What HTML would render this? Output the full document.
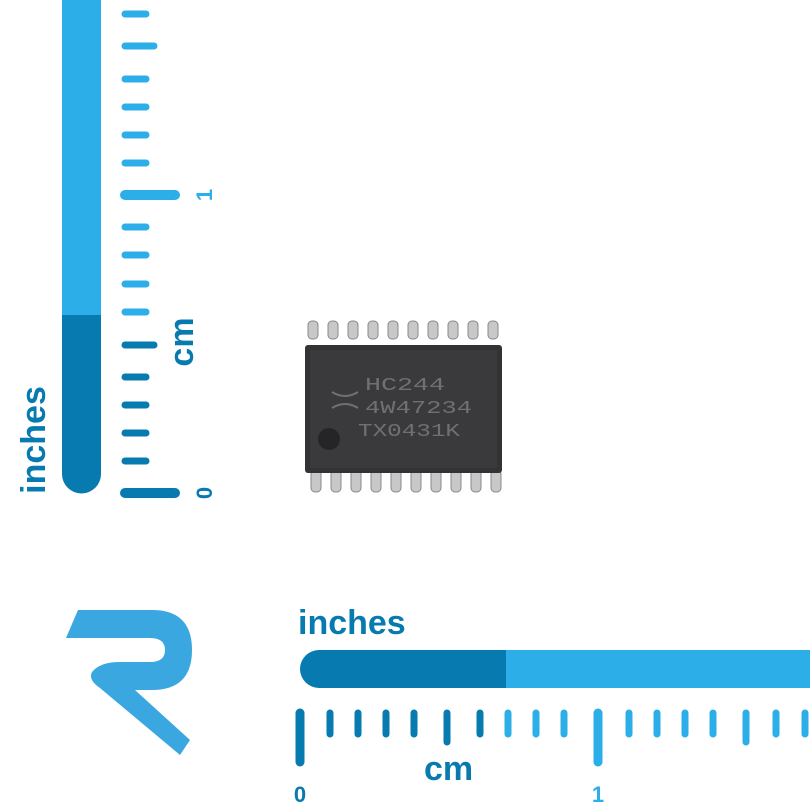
<!DOCTYPE html>
<html><head><style>
html,body{margin:0;padding:0;background:#fff;width:810px;height:810px;overflow:hidden}
svg{display:block}
text{font-family:"Liberation Sans",sans-serif;font-weight:bold}
</style></head><body>
<svg width="810" height="810" viewBox="0 0 810 810">
<!-- vertical ruler -->
<rect x="62" y="0" width="39" height="316" fill="#2caee8"/>
<path d="M62 315 H101 V474 A19.5 19.5 0 0 1 62 474 Z" fill="#077ab0"/>
<g stroke-linecap="round" stroke-width="7">
<g stroke="#2caee8">
<line x1="125" y1="14" x2="146" y2="14"/>
<line x1="125" y1="46" x2="154" y2="46"/>
<line x1="125" y1="79" x2="146" y2="79"/>
<line x1="125" y1="107" x2="146" y2="107"/>
<line x1="125" y1="135" x2="146" y2="135"/>
<line x1="125" y1="163" x2="146" y2="163"/>
<line x1="125" y1="195" x2="175" y2="195" stroke-width="10"/>
<line x1="125" y1="227" x2="146" y2="227"/>
<line x1="125" y1="255" x2="146" y2="255"/>
<line x1="125" y1="284" x2="146" y2="284"/>
<line x1="125" y1="312" x2="146" y2="312"/>
</g>
<g stroke="#077ab0">
<line x1="125" y1="345" x2="154" y2="345"/>
<line x1="125" y1="377" x2="146" y2="377"/>
<line x1="125" y1="405" x2="146" y2="405"/>
<line x1="125" y1="433" x2="146" y2="433"/>
<line x1="125" y1="461" x2="146" y2="461"/>
<line x1="125" y1="493" x2="175" y2="493" stroke-width="10"/>
</g>
</g>
<text transform="translate(212,195) rotate(-90)" font-size="22" fill="#2caee8" text-anchor="middle" font-weight="normal">1</text>
<text transform="translate(212,493) rotate(-90)" font-size="22" fill="#077ab0" text-anchor="middle">0</text>
<text transform="translate(193,342) rotate(-90)" font-size="34" fill="#077ab0" text-anchor="middle">cm</text>
<text transform="translate(45,440) rotate(-90)" font-size="34" fill="#077ab0" text-anchor="middle">inches</text>

<!-- logo -->
<path d="M78 610 H152 Q192 610 192 650 Q192 690 152 690 H135 L190 740 L180 755 L100 688 Q88 680 92 672 Q100 662 120 662 H150 Q165 662 165 650 Q165 638 150 638 H66 Z" fill="#3aa7e0"/>

<!-- bottom ruler -->
<path d="M319 650 H507 V688 H319 A19 19 0 0 1 319 650 Z" fill="#077ab0"/>
<rect x="506" y="650" width="304" height="38" fill="#2caee8"/>
<g stroke-linecap="round" stroke-width="7">
<g stroke="#077ab0">
<line x1="300" y1="713" x2="300" y2="762" stroke-width="9"/>
<line x1="330" y1="713" x2="330" y2="734"/>
<line x1="358" y1="713" x2="358" y2="734"/>
<line x1="386" y1="713" x2="386" y2="734"/>
<line x1="414" y1="713" x2="414" y2="734"/>
<line x1="447" y1="713" x2="447" y2="742"/>
<line x1="480" y1="713" x2="480" y2="734"/>
</g>
<g stroke="#2caee8">
<line x1="508" y1="713" x2="508" y2="734"/>
<line x1="536" y1="713" x2="536" y2="734"/>
<line x1="564" y1="713" x2="564" y2="734"/>
<line x1="598" y1="713" x2="598" y2="762" stroke-width="9"/>
<line x1="629" y1="713" x2="629" y2="734"/>
<line x1="657" y1="713" x2="657" y2="734"/>
<line x1="685" y1="713" x2="685" y2="734"/>
<line x1="713" y1="713" x2="713" y2="734"/>
<line x1="746" y1="713" x2="746" y2="742"/>
<line x1="776" y1="713" x2="776" y2="734"/>
<line x1="805" y1="713" x2="805" y2="734"/>
</g>
</g>
<text x="298" y="634" font-size="34" fill="#077ab0">inches</text>
<text x="424" y="780" font-size="34" fill="#077ab0">cm</text>
<text x="300" y="802" font-size="22" fill="#077ab0" text-anchor="middle">0</text>
<text x="598" y="802" font-size="22" fill="#2caee8" text-anchor="middle" font-weight="normal">1</text>

<!-- chip -->
<g fill="#c8c8c8" stroke="#888" stroke-width="1">
<rect x="308" y="321" width="10" height="18" rx="4"/><rect x="328" y="321" width="10" height="18" rx="4"/>
<rect x="348" y="321" width="10" height="18" rx="4"/><rect x="368" y="321" width="10" height="18" rx="4"/>
<rect x="388" y="321" width="10" height="18" rx="4"/><rect x="408" y="321" width="10" height="18" rx="4"/>
<rect x="428" y="321" width="10" height="18" rx="4"/><rect x="448" y="321" width="10" height="18" rx="4"/>
<rect x="468" y="321" width="10" height="18" rx="4"/><rect x="488" y="321" width="10" height="18" rx="4"/>
<rect x="311" y="470" width="10" height="22" rx="4"/><rect x="331" y="470" width="10" height="22" rx="4"/>
<rect x="351" y="470" width="10" height="22" rx="4"/><rect x="371" y="470" width="10" height="22" rx="4"/>
<rect x="391" y="470" width="10" height="22" rx="4"/><rect x="411" y="470" width="10" height="22" rx="4"/>
<rect x="431" y="470" width="10" height="22" rx="4"/><rect x="451" y="470" width="10" height="22" rx="4"/>
<rect x="471" y="470" width="10" height="22" rx="4"/><rect x="491" y="470" width="10" height="22" rx="4"/>
</g>
<rect x="305" y="345" width="197" height="128" rx="3" fill="#333335"/>
<rect x="310" y="350" width="187" height="118" fill="#3a3a3c"/>
<circle cx="329" cy="439" r="11" fill="#252527"/>
<g fill="#707070" font-size="18">
<text x="365" y="390" textLength="80" lengthAdjust="spacingAndGlyphs" style="font-family:'Liberation Mono',monospace;font-weight:normal">HC244</text>
<text x="365" y="413" textLength="107" lengthAdjust="spacingAndGlyphs" style="font-family:'Liberation Mono',monospace;font-weight:normal">4W47234</text>
<text x="358" y="436" textLength="102" lengthAdjust="spacingAndGlyphs" style="font-family:'Liberation Mono',monospace;font-weight:normal">TX0431K</text>
</g>
<path d="M332 392 Q345 400 358 392 M332 408 Q345 400 358 408" stroke="#707070" stroke-width="2" fill="none"/>
</svg>
</body></html>
